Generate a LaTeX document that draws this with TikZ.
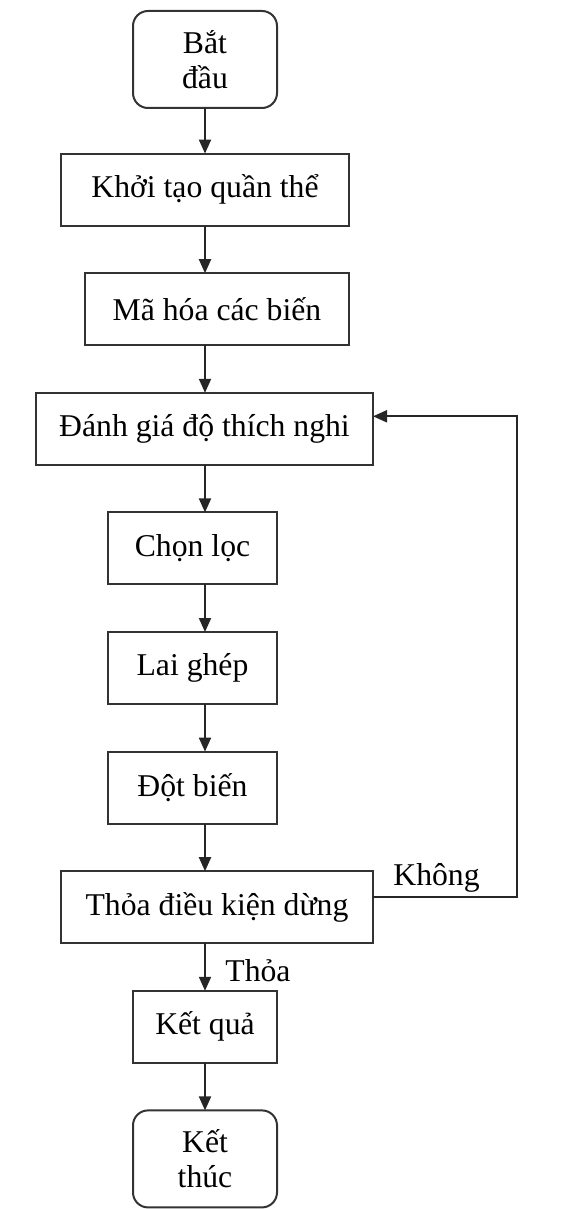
\documentclass[tikz,border=0pt]{standalone}
\usepackage{fontspec}
\setmainfont{Liberation Serif}
\usetikzlibrary{positioning,arrows.meta}

\begin{document}
\begin{tikzpicture}[
  node distance=23.8pt,
  font=\fontsize{15.85}{17.5}\selectfont,
  box/.style={draw=black!80, line width=1pt, minimum width=#1, minimum height=36pt, align=center, inner sep=2pt, outer sep=0pt},
  term/.style={box=#1, rounded corners=7.5pt, minimum height=48.5pt},
  arr/.style={-{Triangle[length=7pt,width=6pt]}, line width=1pt, black!85},
  lbl/.style={inner sep=0pt}
]
\useasboundingbox (0,0) rectangle (290.5pt,-604.5pt);

\node[term=72pt] (start) at (102.5pt,-29.75pt) {Bắt\\đầu};
\node[box=144pt, below=of start, yshift=1pt] (init) {Khởi tạo quần thể};
\node[box=132pt, below=of init, xshift=6pt] (code) {Mã hóa các biến};
\node[box=168.5pt, below=of code, xshift=-6.25pt] (eval) {Đánh giá độ thích nghi};
\node[box=84.5pt, below=of eval, xshift=-6pt] (sel) {Chọn lọc};
\node[box=84.5pt, below=of sel] (cross) {Lai ghép};
\node[box=84.5pt, below=of cross] (mut) {Đột biến};
\node[box=156pt, below=of mut, xshift=12.25pt] (check) {Thỏa điều kiện dừng};
\node[box=72pt, below=of check, xshift=-6pt] (result) {Kết quả};
\node[term=72pt, below=of result] (stop) {Kết\\thúc};

% main line
\coordinate (spine) at (start.south);
\foreach \a/\b in {start/init, init/code, code/eval, eval/sel, sel/cross, cross/mut, mut/check, check/result, result/stop}
  \draw[arr] (spine |- \a.south) -- (spine |- \b.north);
\node[lbl, anchor=base west] (yes) at ([xshift=10pt, yshift=4.5pt]spine |- result.north) {Thỏa};

% loop back
\draw[arr] ([yshift=5.25pt]check.east) -- ++(72pt,0) |- ([yshift=6.25pt]eval.east);
\node[lbl, anchor=base west] (no) at ([xshift=10pt, yshift=10.75pt]check.east) {Không};
\end{tikzpicture}
\end{document}
